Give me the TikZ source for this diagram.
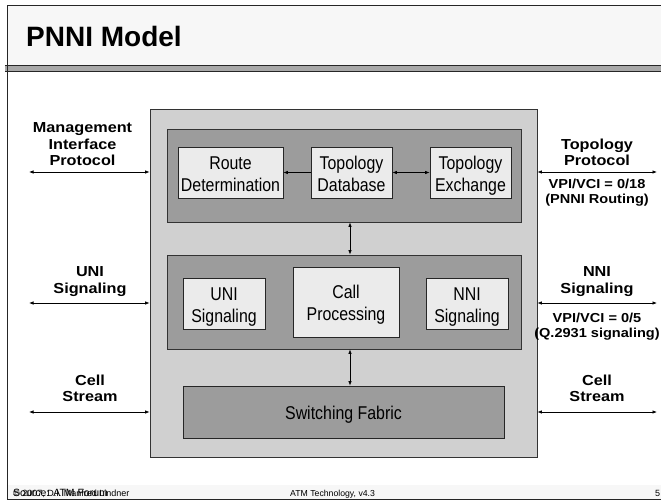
\documentclass[tikz,border=0pt]{standalone}
\usepackage{fontspec}
\setmainfont{Liberation Sans}
\newfontfamily\lblfont[FakeStretch=1.12]{Liberation Sans}
\newfontfamily\boxfont[FakeStretch=0.86]{Liberation Sans}
\usetikzlibrary{positioning,arrows.meta}
\definecolor{slidebg}{HTML}{F7F7F7}
\definecolor{outergrey}{HTML}{D0D0D0}
\definecolor{layergrey}{HTML}{9C9C9C}
\definecolor{funcgrey}{HTML}{EBEBEB}
\definecolor{bandgrey}{HTML}{A8A8A8}

\begin{document}
\begin{tikzpicture}[
x=1pt, y=-1pt,
outer/.style={
    draw=black!80,
    line width=0.8pt,
    fill=outergrey,
    inner sep=0
    },
layer/.style={
    draw=black!80,
    line width=0.8pt,
    fill=layergrey,
    minimum width=354pt,
    inner sep=0
    },
func/.style={
    draw=black!85,
    line width=0.8pt,
    fill=funcgrey,
    inner sep=0,
    align=center,
    font=\boxfont\fontsize{18.5}{22}\selectfont,
    execute at end node=\strut
    },
twoline/.style={func, execute at begin node=\rule{0pt}{44pt}},
oneline/.style={func, execute at begin node=\rule{0pt}{22pt}},
lbl/.style={align=center, inner sep=0, font=\lblfont\bfseries\fontsize{14.5}{16.5}\selectfont},
vci/.style={align=center, inner sep=0, font=\lblfont\bfseries\fontsize{13}{15.5}\selectfont},
foot/.style={anchor=base west, inner sep=0},
link/.style={{Latex[length=4.5pt,width=3.5pt]}-{Latex[length=4.5pt,width=3.5pt]}, line width=0.7pt},
onelink/.style={-{Latex[length=4.5pt,width=3.5pt]}, line width=0.7pt},
node distance=10pt
]

\useasboundingbox (0,0) rectangle (661,501);
\fill[white] (0,0) rectangle (661,501);

\fill[slidebg] (7,5) rectangle (661,65);
\fill[slidebg] (7,485) rectangle (661,499);
\fill[bandgrey] (5,65) rectangle (661,71);
\draw[black!85, line width=0.8pt] (5,65) -- (661,65) (5,71) -- (661,71);
\draw[black!85, line width=0.8pt] (661,5) -- (7,5) -- (7,499) -- (661,499);

\node[anchor=base west, inner sep=0, font=\bfseries\fontsize{28}{32}\selectfont] (title) at (26,46) {PNNI Model};

\node[foot, font=\fontsize{10.5}{12}\selectfont] (source) at (13,496) {Source: ATM Forum};
\node[foot, font=\fontsize{9}{11}\selectfont] (author) at (13,496) {© 2007, D.I. Manfred Lindner};
\node[foot, font=\fontsize{8.7}{10}\selectfont] (course) at (290,496) {ATM Technology, v4.3};
\node[foot, font=\fontsize{9}{11}\selectfont] (page) at (655,496) {5};

\node[outer, minimum width=387pt, minimum height=348pt] (switch) at (343.5,283) {};

\node[layer, minimum height=93pt] (routing) at (344,175.5) {};
\node[twoline, minimum width=105pt, minimum height=51pt] (route) at (230.5,172.5) {Route\\Determination};
\node[twoline, minimum width=81pt, minimum height=51pt] (topodb) at (351.5,172.5) {Topology\\Database};
\node[twoline, minimum width=81pt, minimum height=51pt] (topoex) at (470.5,172.5) {Topology\\Exchange};

\node[layer, minimum height=94pt] (signal) at (344,302) {};
\node[twoline, minimum width=82pt, minimum height=51pt] (uni) at (224,303.5) {UNI\\Signaling};
\node[twoline, minimum width=106pt, minimum height=70pt] (callproc) at (346,302) {Call\\Processing};
\node[twoline, minimum width=82pt, minimum height=51pt] (nni) at (467,303.5) {NNI\\Signaling};

\node[oneline, fill=layergrey, minimum width=321pt, minimum height=52pt] (fabric) at (343.5,412) {Switching Fabric};

\draw[onelink] (topodb) -- (route);
\draw[link] (topodb) -- (topoex);
\coordinate (vx) at (350,0);
\draw[link] (vx |- routing.south) -- (vx |- signal.north);
\draw[link] (vx |- signal.south) -- (vx |- fabric.north);

\coordinate (mgmtend) at (29,172);
\coordinate (uniend) at (29,303);
\coordinate (cellinend) at (29,412);
\coordinate (topoend) at (657,172);
\coordinate (nniend) at (657,303);
\coordinate (celloutend) at (657,412);
\draw[link] (mgmtend) -- (mgmtend -| switch.west);
\draw[link] (uniend) -- (uniend -| switch.west);
\draw[link] (cellinend) -- (cellinend -| switch.west);
\draw[link] (topoend -| switch.east) -- (topoend);
\draw[link] (nniend -| switch.east) -- (nniend);
\draw[link] (celloutend -| switch.east) -- (celloutend);

\node[lbl, anchor=south] (mgmtlabel) at (82.5,166) {Management\\Interface\\Protocol};
\node[lbl, anchor=south] (unilabel) at (90,296.5) {UNI\\Signaling};
\node[lbl, anchor=south] (cellinlabel) at (90,402) {Cell\\Stream};
\node[lbl, anchor=south] (topolabel) at (597,166) {Topology\\Protocol};
\node[vci, anchor=north] (topovci) at (597,178.5) {VPI/VCI = 0/18\\(PNNI Routing)};
\node[lbl, anchor=south] (nnilabel) at (597,296.5) {NNI\\Signaling};
\node[vci, anchor=north] (nnivci) at (597,312.5) {VPI/VCI = 0/5\\(Q.2931 signaling)};
\node[lbl, anchor=south] (celloutlabel) at (597,402) {Cell\\Stream};

\end{tikzpicture}
\end{document}
